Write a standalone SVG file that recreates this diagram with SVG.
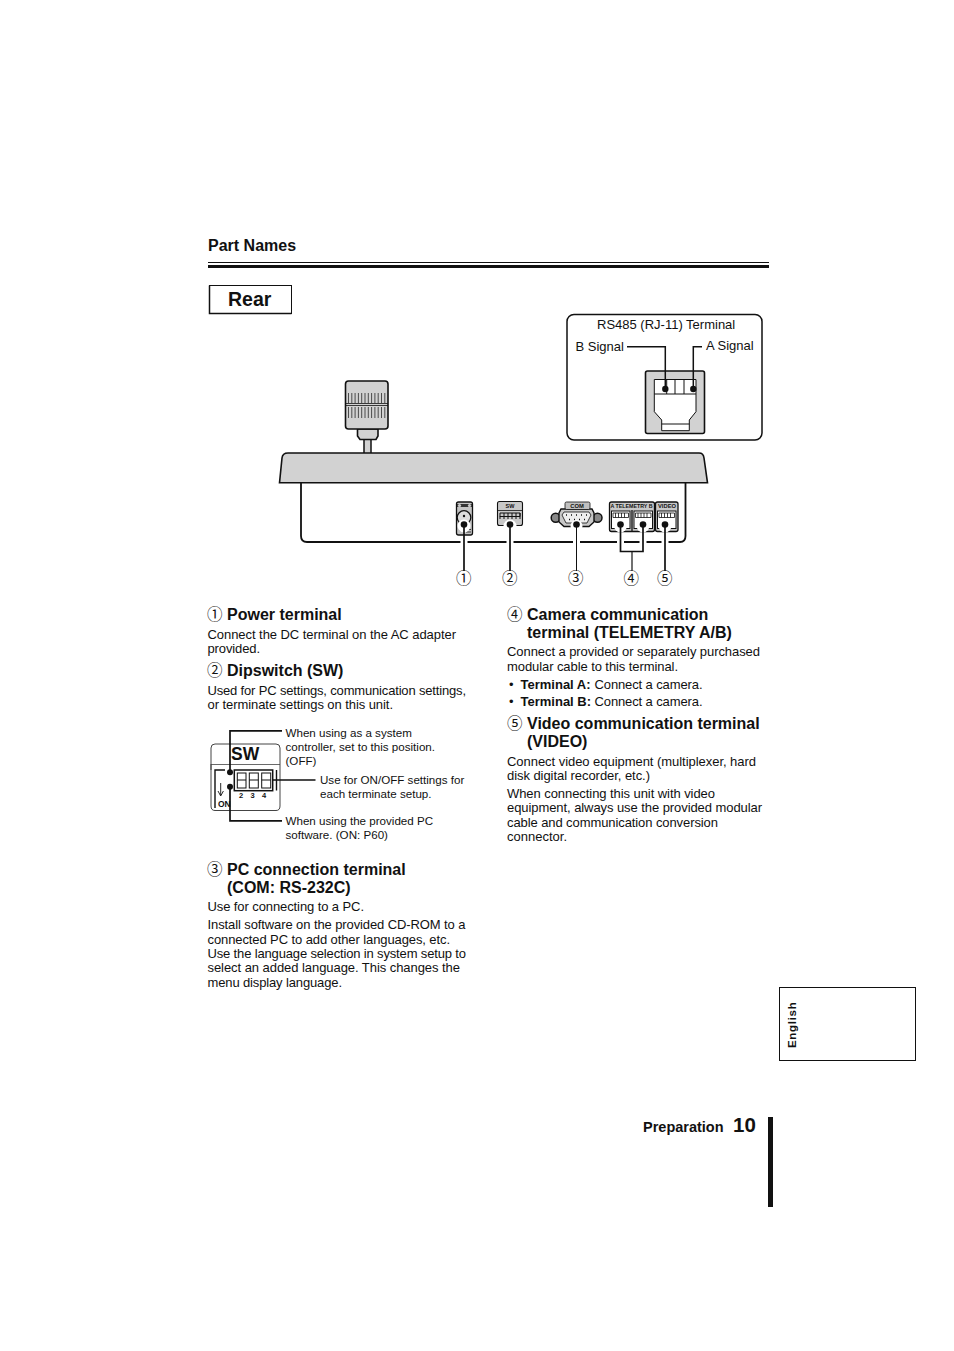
<svg xmlns="http://www.w3.org/2000/svg" width="954" height="1351" viewBox="0 0 954 1351">
<style>
text{font-family:"Liberation Sans",Arial,sans-serif;fill:#111}
.b{font-size:13px}
.h{font-size:16px;font-weight:bold}
.s{font-size:11.6px}
.n{font-family:"Noto Sans CJK JP",sans-serif;font-size:15.500px}
.g{fill:#d2d2d2;stroke:#111;stroke-width:1.6}
.l{stroke:#111;fill:none;stroke-width:1.500}
.d{fill:#111}
.c{fill:#fff;stroke:#111;stroke-width:1}
</style>
<rect width="954" height="1351" fill="#fff"/>
<g id="header">
<text x="208" y="251" style="font-size:16px;font-weight:bold">Part Names</text>
<rect x="208" y="262" width="561" height="1" fill="#111"/>
<rect x="208" y="265" width="561" height="3" fill="#111"/>
</g>
<g id="rear-title">
<rect x="209.500" y="285.500" width="82" height="28" fill="#fff" stroke="#111" stroke-width="1"/>
<path d="M209.500 285.500V313.500H291.500" stroke="#111" stroke-width="1.500" fill="none"/>
<text x="228" y="306" style="font-size:19.500px;font-weight:bold">Rear</text>
</g>
<g id="rj11-callout">
<rect x="567" y="314.500" width="195" height="125.500" rx="7" fill="#fff" stroke="#111" stroke-width="1.500"/>
<text x="597" y="329" class="b">RS485 (RJ-11) Terminal</text>
<text x="575.500" y="351" class="b">B Signal</text>
<text x="706" y="350" class="b">A Signal</text>
<rect x="645.500" y="371" width="59" height="62.500" rx="2" class="g"/>
<path d="M654.300 379.500H696V411.700L689.300 420V430.700H661.700V420L654.300 411.700Z" fill="#fff" stroke="#111" stroke-width="1"/>
<path d="M654.300 394H696M666.700 379.500V394M675 379.500V394M684 379.500V394M661.700 424H689.300" stroke="#111" stroke-width="1" fill="none"/>
<path d="M627 346.700H665.300V389M693.300 389V346.700H702" class="l"/>
<circle cx="665.300" cy="389" r="3.200" class="d"/>
<circle cx="693.300" cy="389" r="3.200" class="d"/>
</g>
<g id="controller">
<path d="M301 482V536Q301 542 307 542H680Q685.500 542 685.500 536V482" fill="#fff" stroke="#111" stroke-width="1.800"/>
<rect x="364" y="438" width="7" height="16" fill="#d2d2d2" stroke="#111" stroke-width="1.500"/>
<path d="M357.500 429H378V436L376 439.500H360L357.500 436Z" class="g"/>
<rect x="345.500" y="381" width="42.500" height="48" rx="3" class="g"/>
<path d="M346 403.500H388M346 405.500H388" stroke="#111" stroke-width="0.800"/>
<path d="M348.500 393V403M351.800 393V403M355.100 393V403M358.400 393V403M361.700 393V403M365 393V403M368.300 393V403M371.600 393V403M374.900 393V403M378.200 393V403M381.500 393V403M384.800 393V403M348.500 407V418M351.800 407V418M355.100 407V418M358.400 407V418M361.700 407V418M365 407V418M368.300 407V418M371.600 407V418M374.900 407V418M378.200 407V418M381.500 407V418M384.800 407V418" stroke="#111" stroke-width="0.700"/>
<path d="M279.500 482.800L282 458Q282.500 453 288 453H699Q703.500 453 704 458L707.500 482.800Z" class="g"/>
</g>
<g id="ports">
<g id="port-power">
<rect x="456.500" y="502" width="16" height="33" rx="2" fill="#c4c4c4" stroke="#111" stroke-width="1.300"/>
<path d="M457 505.500H472" stroke="#333" stroke-width="3"/>
<circle cx="459.500" cy="505.500" r="1.600" fill="#ccc"/><circle cx="469.500" cy="505.500" r="1.600" fill="#ccc"/>
<circle cx="464" cy="517.500" r="6.800" fill="#ddd" stroke="#111" stroke-width="1.300"/>
<circle cx="464" cy="516" r="1.200" class="d"/>
<path d="M459 530H462M466 529.500H471M466 532H471" stroke="#111" stroke-width="0.800"/>
</g>
<g id="port-sw">
<rect x="497.500" y="501.500" width="25" height="24" rx="2" fill="#c8c8c8" stroke="#111" stroke-width="1.100"/>
<text x="510" y="508" text-anchor="middle" style="font-size:5.500px;font-weight:bold">SW</text>
<path d="M498 510.500H522" stroke="#111" stroke-width="0.800"/>
<path d="M500 513H520V516.500H500ZM500 516V519M504 513V519M508 513V519M512 513V519M516 513V519M520 513V519" stroke="#111" stroke-width="1" fill="none"/>
</g>
<g id="port-com">
<circle cx="555.700" cy="517.700" r="4.500" fill="#888" stroke="#111" stroke-width="1.500"/>
<circle cx="597.500" cy="517.700" r="4.500" fill="#888" stroke="#111" stroke-width="1.500"/>
<path d="M561 509H592L594 513V522L589 526.500H564L559 522V513Z" fill="#c8c8c8" stroke="#111" stroke-width="1.400"/>
<path d="M564 512H589L591 515L587 523H566L562 515Z" fill="#eee" stroke="#111" stroke-width="0.800"/>
<path d="M566 515h1M571 515h1M576 515h1M581 515h1M586 515h1M569 519.500h1M574 519.500h1M579 519.500h1M584 519.500h1" stroke="#111" stroke-width="1.600"/>
<rect x="565" y="502" width="25" height="7.500" rx="1.500" fill="#c0c0c0" stroke="#111" stroke-width="0.800"/>
<text x="577" y="508" text-anchor="middle" style="font-size:5.800px;font-weight:bold">COM</text>
</g>
<g id="port-telemetry">
<rect x="609.500" y="502" width="45" height="29.500" rx="2" fill="#c8c8c8" stroke="#111" stroke-width="1.300"/>
<text x="631.500" y="507.800" text-anchor="middle" style="font-size:5.300px;font-weight:bold">A TELEMETRY B</text>
<path d="M632 510V531" stroke="#111" stroke-width="1.300"/>
<rect x="611.500" y="511" width="18.500" height="17.500" class="c"/>
<rect x="634" y="511" width="18.500" height="17.500" class="c"/>
<path d="M613 513H628.500V517.500H613ZM615.500 513V517.500M618.500 513V517.500M621.500 513V517.500M624.500 513V517.500M635.500 513H651V517.500H635.500ZM638 513V517.500M641 513V517.500M644 513V517.500M647 513V517.500" stroke="#111" stroke-width="0.800" fill="none"/>
</g>
<g id="port-video">
<rect x="655.500" y="502" width="22.500" height="29.500" rx="2" fill="#c8c8c8" stroke="#111" stroke-width="1.300"/>
<text x="667" y="507.800" text-anchor="middle" style="font-size:5.800px;font-weight:bold">VIDEO</text>
<rect x="657.500" y="511" width="18.500" height="17.500" class="c"/>
<path d="M659 513H674.500V517.500H659ZM661.500 513V517.500M664.500 513V517.500M667.500 513V517.500M670.500 513V517.500" stroke="#111" stroke-width="0.800" fill="none"/>
</g>
</g>
<g id="connectors">
<g fill="#fff" stroke="none">
<circle cx="464" cy="526" r="6.500"/><circle cx="510" cy="526" r="6.500"/><circle cx="576.500" cy="526" r="6"/><circle cx="620.500" cy="526" r="6.500"/><circle cx="643" cy="526" r="6.500"/><circle cx="665" cy="526" r="6.500"/>
<rect x="460.500" y="538" width="7" height="7"/><rect x="506.500" y="538" width="7" height="7"/><rect x="573" y="538" width="7" height="7"/><rect x="617" y="538" width="7" height="7"/><rect x="639.500" y="538" width="7" height="7"/><rect x="661.500" y="538" width="7" height="7"/>
</g>
<circle cx="464" cy="524.500" r="3.300" class="d"/><circle cx="510" cy="524.500" r="3.300" class="d"/><circle cx="576.500" cy="524.500" r="3.300" class="d"/><circle cx="620.500" cy="524.500" r="3.300" class="d"/><circle cx="643" cy="524.500" r="3.300" class="d"/><circle cx="665" cy="524.500" r="3.300" class="d"/>
<path d="M464 525V571M510 525V571M665 525V571" stroke="#111" stroke-width="1.700" fill="none"/>
<path d="M576.500 525V571" stroke="#111" stroke-width="1" fill="none"/>
<path d="M620.500 525V551.500H643V525" stroke="#111" stroke-width="1.700" fill="none"/>
<path d="M632 551.500V571" stroke="#111" stroke-width="1.200" fill="none"/>
<text x="456" y="584" class="n">①</text>
<text x="502" y="584" class="n">②</text>
<text x="568" y="584" class="n">③</text>
<text x="623.500" y="584" class="n">④</text>
<text x="657" y="584" class="n">⑤</text>
</g>
<g id="section-1">
<text x="207" y="620" class="n">①</text>
<text x="227" y="620" class="h">Power terminal</text>
<text x="207.500" y="639" class="b" textLength="248.500">Connect the DC terminal on the AC adapter</text>
<text x="207.500" y="653" class="b" textLength="52.500">provided.</text>
</g>
<g id="section-2">
<text x="207" y="676" class="n">②</text>
<text x="227" y="676" class="h">Dipswitch (SW)</text>
<text x="207.500" y="695" class="b" textLength="258.500">Used for PC settings, communication settings,</text>
<text x="207.500" y="709" class="b" textLength="185.500">or terminate settings on this unit.</text>
</g>
<g id="sw-detail">
<path d="M211 770V748Q211 744 215 744H276Q280 744 280 748V764M211 764V806Q211 810.500 215 810.500H276Q280 810.500 280 806V764" fill="#fff" stroke="#444" stroke-width="1"/>
<path d="M211 764.500H280" stroke="#444" stroke-width="0.800"/>
<text x="231" y="759.500" style="font-size:17.500px;font-weight:bold">SW</text>
<path d="M215 808V770H225M276.500 770V790.500" stroke="#111" stroke-width="1.400" fill="none"/>
<rect x="234.300" y="770" width="38.400" height="20.700" fill="#fff" stroke="#111" stroke-width="1.500"/>
<g fill="#fff" stroke="#111" stroke-width="1">
<rect x="237.300" y="773" width="8.700" height="15"/><rect x="249.300" y="773" width="9" height="15"/><rect x="261.700" y="773" width="9" height="15"/>
</g>
<path d="M237.300 780H246M249.300 780H258.300M261.700 780H270.700" stroke="#111" stroke-width="1" fill="none"/>
<path d="M220.700 783V795M218 791L220.700 796L223.400 791" stroke="#111" stroke-width="0.900" fill="none"/>
<text x="239" y="798" style="font-size:7.500px;font-weight:bold">2</text><text x="250.500" y="798" style="font-size:7.500px;font-weight:bold">3</text><text x="262" y="798" style="font-size:7.500px;font-weight:bold">4</text>
<text x="218" y="807" style="font-size:8.500px;font-weight:bold">ON</text>
<path d="M282 730.800H230V772M230 787V820.800H282M272.700 780H315.500" stroke="#111" stroke-width="1.700" fill="none"/>
<circle cx="230" cy="772.300" r="3" class="d"/><circle cx="230" cy="786.700" r="3" class="d"/>
<text x="285.500" y="737" class="s">When using as a system</text>
<text x="285.500" y="751" class="s">controller, set to this position.</text>
<text x="285.500" y="765" class="s">(OFF)</text>
<text x="320" y="784" class="s">Use for ON/OFF settings for</text>
<text x="320" y="798" class="s">each terminate setup.</text>
<text x="285.500" y="825" class="s">When using the provided PC</text>
<text x="285.500" y="839" class="s">software. (ON: P60)</text>
</g>
<g id="section-3">
<text x="207" y="875" class="n">③</text>
<text x="227" y="875" class="h">PC connection terminal</text>
<text x="227" y="893" class="h">(COM: RS-232C)</text>
<text x="207.500" y="911" class="b" textLength="156.500">Use for connecting to a PC.</text>
<text x="207.500" y="929" class="b" textLength="258">Install software on the provided CD-ROM to a</text>
<text x="207.500" y="944" class="b" textLength="242.500">connected PC to add other languages, etc.</text>
<text x="207.500" y="958" class="b" textLength="258.500">Use the language selection in system setup to</text>
<text x="207.500" y="972" class="b" textLength="252.500">select an added language. This changes the</text>
<text x="207.500" y="987" class="b" textLength="134.500">menu display language.</text>
</g>
<g id="section-4">
<text x="507" y="620" class="n">④</text>
<text x="527" y="620" class="h">Camera communication</text>
<text x="527" y="638" class="h">terminal (TELEMETRY A/B)</text>
<text x="507" y="656" class="b" textLength="253">Connect a provided or separately purchased</text>
<text x="507" y="671" class="b" textLength="171">modular cable to this terminal.</text>
<text x="509" y="689" class="b">•</text><text x="520.500" y="689" class="b" style="font-weight:bold">Terminal A:</text><text x="594.500" y="689" class="b" textLength="108">Connect a camera.</text>
<text x="509" y="706" class="b">•</text><text x="520.500" y="706" class="b" style="font-weight:bold">Terminal B:</text><text x="594.500" y="706" class="b" textLength="108">Connect a camera.</text>
</g>
<g id="section-5">
<text x="507" y="729" class="n">⑤</text>
<text x="527" y="729" class="h">Video communication terminal</text>
<text x="527" y="747" class="h">(VIDEO)</text>
<text x="507" y="766" class="b" textLength="249">Connect video equipment (multiplexer, hard</text>
<text x="507" y="780" class="b" textLength="143">disk digital recorder, etc.)</text>
<text x="507" y="798" class="b" textLength="208">When connecting this unit with video</text>
<text x="507" y="812" class="b" textLength="255">equipment, always use the provided modular</text>
<text x="507" y="827" class="b" textLength="211">cable and communication conversion</text>
<text x="507" y="841" class="b" textLength="60">connector.</text>
</g>
<g id="language-tab">
<rect x="779.500" y="987.500" width="136" height="73" fill="#fff" stroke="#111" stroke-width="1"/>
<text transform="translate(796 1048) rotate(-90)" style="font-size:11.500px;font-weight:bold;letter-spacing:0.700px">English</text>
</g>
<g id="footer">
<text x="643" y="1132" style="font-size:14.500px;font-weight:bold">Preparation</text>
<text x="733" y="1131.500" style="font-size:20.500px;font-weight:bold">10</text>
<rect x="768" y="1117" width="5" height="90" fill="#111"/>
</g>
</svg>
